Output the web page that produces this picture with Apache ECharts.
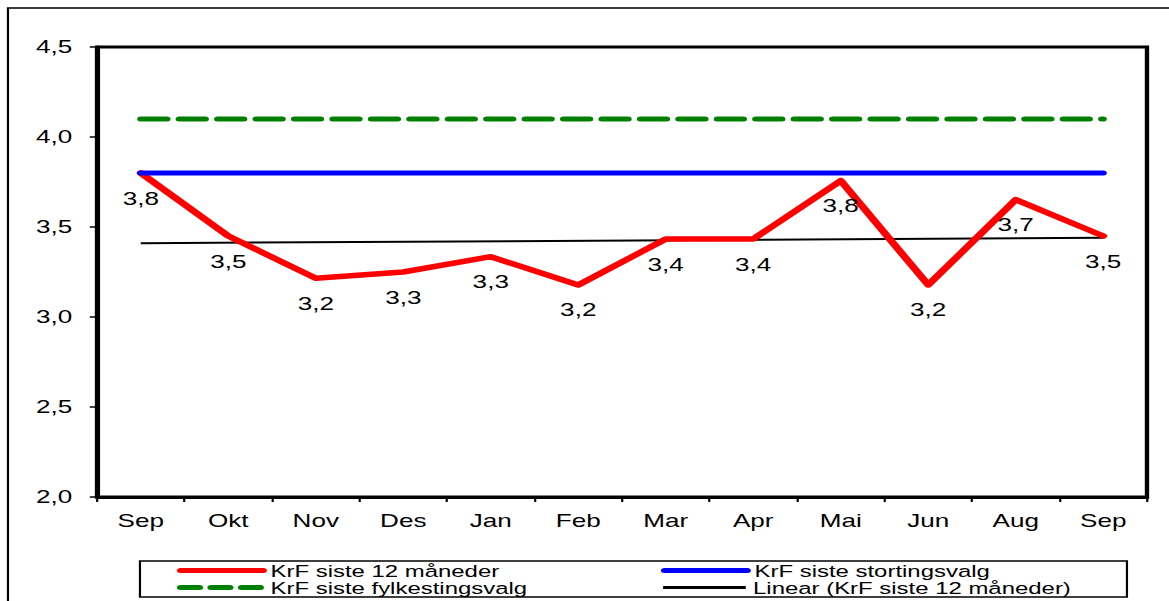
<!DOCTYPE html>
<html>
<head>
<meta charset="utf-8">
<script src="https://cdn.jsdelivr.net/npm/echarts@6/dist/echarts.min.js"></script>
<style>
html,body{margin:0;padding:0;background:#fff;overflow:hidden;}
#c{width:806px;height:601px;transform:scaleX(1.4504);transform-origin:0 0;}
</style>
</head>
<body>
<div id="c"></div>
<script>
// ---- data ----
var categories = ['Sep','Okt','Nov','Des','Jan','Feb','Mar','Apr','Mai','Jun','Aug','Sep'];
var krfSiste12 = [3.80, 3.45, 3.215, 3.25, 3.335, 3.178, 3.433, 3.433, 3.757, 3.178, 3.652, 3.45];
var krfStorting = [3.8, 3.8, 3.8, 3.8, 3.8, 3.8, 3.8, 3.8, 3.8, 3.8, 3.8, 3.8];
var krfFylke = [4.1, 4.1, 4.1, 4.1, 4.1, 4.1, 4.1, 4.1, 4.1, 4.1, 4.1, 4.1];
var trendEnds = [3.41, null, null, null, null, null, null, null, null, null, null, 3.44];
var seriesNames = ['KrF siste 12 måneder', 'KrF siste stortingsvalg', 'KrF siste fylkestingsvalg', 'Linear (KrF siste 12 måneder)'];

var FONT = "'Liberation Sans', Arial, sans-serif";
function comma(v){ return Number(v).toFixed(1).replace('.', ','); }

var chart = echarts.init(document.getElementById('c'), null, {renderer: 'svg'});
function leg(name, left, top, lineStyle){
  return {
    data: [name], left: left, top: top, padding: 0,
    itemWidth: 57, itemHeight: 10, itemGap: 0,
    selectedMode: false,
    itemStyle: {opacity: 0},
    lineStyle: lineStyle,
    textStyle: {fontFamily: FONT, fontSize: 16.5, color: '#000', lineHeight: 16}
  };
}
chart.setOption({
  animation: false,
  backgroundColor: '#fff',
  graphic: [
    {type: 'rect', shape: {x: 5.5, y: 8, width: 2000, height: 1000}, style: {fill: 'none', stroke: '#000', lineWidth: 1.5}, silent: true},
    {type: 'rect', shape: {x: 96.5, y: 561, width: 680.5, height: 36}, style: {fill: 'none', stroke: '#000', lineWidth: 1.5}, silent: true}
  ],
  grid: {left: 66.9, right: 15.2, top: 47, bottom: 104, show: true, borderColor: '#000', borderWidth: 3, backgroundColor: 'transparent'},
  legend: [
    leg(seriesNames[0], 122, 562, {width: 5, cap: 'round', color: '#ff0000'}),
    leg(seriesNames[1], 455.7, 562, {width: 5, cap: 'round', color: '#0000ff'}),
    leg(seriesNames[2], 122, 579, {width: 5, type: [13, 8], cap: 'round', color: '#008000'}),
    leg(seriesNames[3], 455.7, 579, {width: 3, color: '#000'})
  ],
  xAxis: {
    type: 'category', data: categories, boundaryGap: true,
    axisLine: {lineStyle: {color: '#000', width: 3}},
    axisTick: {show: true, length: 5, lineStyle: {color: '#000', width: 1.5}},
    axisLabel: {fontFamily: FONT, fontSize: 18, color: '#000', margin: 15, interval: 0},
    splitLine: {show: false}
  },
  yAxis: {
    type: 'value', min: 2, max: 4.5, interval: 0.5,
    axisLine: {show: true, lineStyle: {color: '#000', width: 3}},
    axisTick: {show: true, length: 5, lineStyle: {color: '#000', width: 1.5}},
    axisLabel: {fontFamily: FONT, fontSize: 18, color: '#000', margin: 17, formatter: function(v){ return comma(v); }},
    splitLine: {show: false}
  },
  series: [
    {
      name: seriesNames[0], type: 'line', data: krfSiste12, z: 3,
      symbol: 'circle', symbolSize: 3, showSymbol: true,
      itemStyle: {color: '#ff0000'},
      lineStyle: {color: '#ff0000', width: 5.5, cap: 'round', join: 'round'},
      label: {show: true, position: 'bottom', distance: 15, fontFamily: FONT, fontSize: 18, color: '#000',
        formatter: function(p){ return comma(p.value); }}
    },
    {
      name: seriesNames[1], type: 'line', data: krfStorting, z: 4,
      symbol: 'none', itemStyle: {color: '#0000ff'},
      lineStyle: {color: '#0000ff', width: 5, cap: 'round'}
    },
    {
      name: seriesNames[2], type: 'line', data: krfFylke, z: 4,
      symbol: 'none', itemStyle: {color: '#008000'},
      lineStyle: {color: '#008000', width: 5, type: [18, 8.5], cap: 'round'}
    },
    {
      name: seriesNames[3], type: 'line', data: trendEnds, connectNulls: true, z: 2,
      symbol: 'none', itemStyle: {color: '#000'},
      lineStyle: {color: '#000', width: 2}
    }
  ]
});
</script>
</body>
</html>
